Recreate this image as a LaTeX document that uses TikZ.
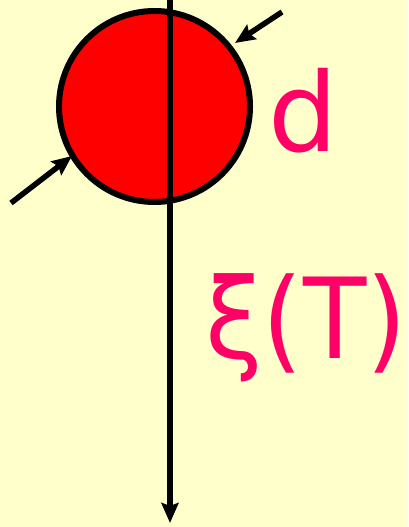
\documentclass[tikz,border=0pt]{standalone}
\usepackage{fontspec}
\setmainfont{DejaVu Sans}
\usetikzlibrary{arrows.meta}
\definecolor{bgyellow}{HTML}{FFFFCC}
\definecolor{ballred}{HTML}{FF0000}
\definecolor{labelpink}{HTML}{FF0066}
\begin{document}
\begin{tikzpicture}[x=1bp,y=-1bp,
  thickline/.style={line width=5.5bp, black},
  tip/.style={-{Stealth[length=20bp,width=17bp,inset=3bp]}},
  biglabel/.style={text=labelpink, inner sep=0pt, anchor=base west, font=\fontsize{110}{110}\selectfont}]
\fill[bgyellow] (0,0) rectangle (408,527);
\useasboundingbox (0,0) rectangle (408,527);
\node[circle, fill=ballred, draw=black, line width=6bp, minimum size=191bp, inner sep=0pt] (ball) at (154.5,106.5) {};
\coordinate (axtop) at (170,-5);
\coordinate (axbot) at (170,523);
\draw[thickline, tip] (axtop) -- (axbot);
\coordinate (tailA) at (282,12);
\coordinate (tipA) at (235,43);
\coordinate (tailB) at (11,203);
\coordinate (tipB) at (72,156);
\draw[thickline, tip] (tailA) -- (tipA);
\draw[thickline, tip] (tailB) -- (tipB);
\node[biglabel] (dlabel) at (268,152) {d};
\node[biglabel] (xilabel) at (205,358) {\scalebox{0.945}[1.02]{ξ(T)}};
\end{tikzpicture}
\end{document}
